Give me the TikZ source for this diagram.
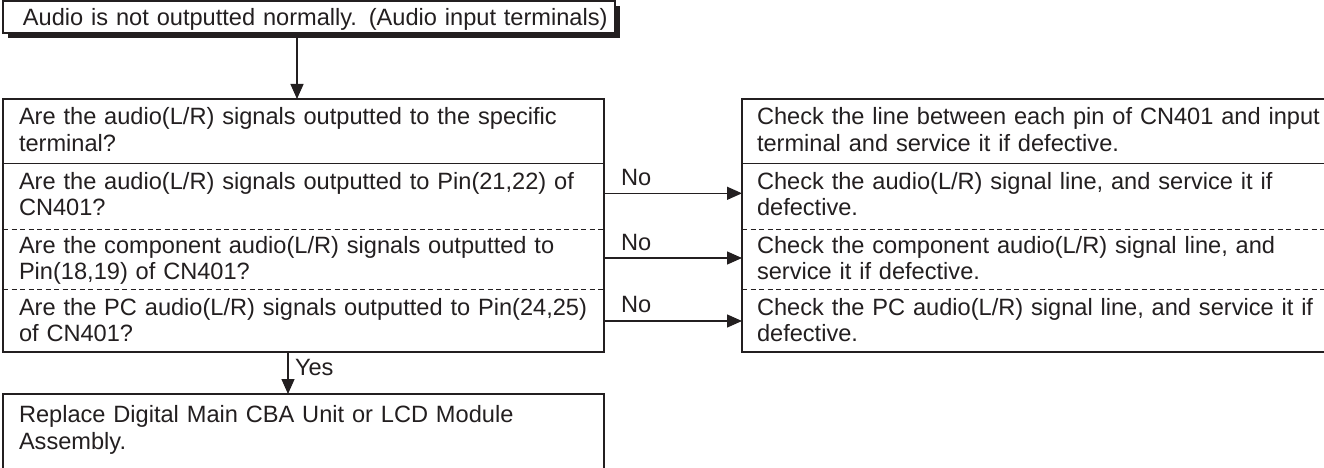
\documentclass[tikz,border=0pt]{standalone}
\usepackage{fontspec}
\setmainfont{Liberation Sans}
\usetikzlibrary{arrows.meta}
\definecolor{ink}{HTML}{231F20}
\begin{document}
\begin{tikzpicture}[x=1pt,y=-1pt,
  frame/.style={draw=ink, line width=1.4pt, inner sep=0pt, outer sep=0pt, anchor=north west},
  solidrule/.style={draw=ink, line width=1.3pt},
  dashrule/.style={draw=ink, line width=1.1pt, dash pattern=on 5pt off 3.5pt},
  txt/.style={anchor=north west, inner sep=0pt, outer sep=0pt, text width=700pt, align=left,
              font=\fontsize{23.6}{26.4}\selectfont, text=ink},
  arr/.style={draw=ink, line width=1.3pt, -{Triangle[width=13pt,length=15pt]}}]
\useasboundingbox (0,0) rectangle (1324,468);
\fill[white] (0,0) rectangle (1324,468);

% title with shadow
\fill[ink] (8,6) rectangle (620,38);
\node[frame, fill=white, minimum width=612pt, minimum height=32pt] (title) at (3,1) {};
\node[txt] (ttl) at (23,7.5) {\strut Audio is not outputted normally. (Audio input terminals)};

% question frame
\node[frame, minimum width=601pt, minimum height=253pt] (qbox) at (3,99) {};
\draw[solidrule] (3,163.3) -- (604,163.3);
\draw[dashrule] (3,229.5) -- (604,229.5);
\draw[dashrule] (3,289.3) -- (604,289.3);

% check frame (runs off the right edge)
\node[frame, minimum width=590pt, minimum height=253pt] (cbox) at (742,99) {};
\draw[solidrule] (742,163.3) -- (1332,163.3);
\draw[dashrule] (742,229.5) -- (1332,229.5);
\draw[dashrule] (742,289.3) -- (1332,289.3);

% final frame (runs off the bottom edge)
\node[frame, minimum width=601pt, minimum height=80pt] (final) at (3,394) {};

% question texts
\node[txt] (q1) at (19,106.5) {\strut Are the audio(L/R) signals outputted to the specific\\terminal?};
\node[txt] (q2) at (19,170.8) {\strut Are the audio(L/R) signals outputted to Pin(21,22) of\\CN401?};
\node[txt] (q3) at (19,234.8) {\strut Are the component audio(L/R) signals outputted to\\Pin(18,19) of CN401?};
\node[txt] (q4) at (19,296.8) {\strut Are the PC audio(L/R) signals outputted to Pin(24,25)\\of CN401?};

% check texts
\node[txt] (c1) at (757,106.5) {\strut Check the line between each pin of CN401 and input\\terminal and service it if defective.};
\node[txt] (c2) at (757,170.8) {\strut Check the audio(L/R) signal line, and service it if\\defective.};
\node[txt] (c3) at (757,234.8) {\strut Check the component audio(L/R) signal line, and\\service it if defective.};
\node[txt] (c4) at (757,296.8) {\strut Check the PC audio(L/R) signal line, and service it if\\defective.};

% final text
\node[txt] (f1) at (19,404.5) {\strut Replace Digital Main CBA Unit or LCD Module\\Assembly.};

% labels
\node[txt] (no2) at (621,167.5) {\strut No};
\node[txt] (no3) at (621,232.5) {\strut No};
\node[txt] (no4) at (621,294.5) {\strut No};
\node[txt] (yes) at (295,357.5) {\strut Yes};

% connector helper coordinates
\coordinate (inx) at (297,99);
\coordinate (r2) at (0,193.3);
\coordinate (r3) at (0,258);
\coordinate (r4) at (0,321);
\coordinate (yx) at (288,0);

% connectors
\draw[arr] (title.south -| inx) -- (inx);
\draw[arr] (qbox.east |- r2) -- (cbox.west |- r2);
\draw[arr] (qbox.east |- r3) -- (cbox.west |- r3);
\draw[arr] (qbox.east |- r4) -- (cbox.west |- r4);
\draw[arr] (qbox.south -| yx) -- (final.north -| yx);
\end{tikzpicture}
\end{document}
